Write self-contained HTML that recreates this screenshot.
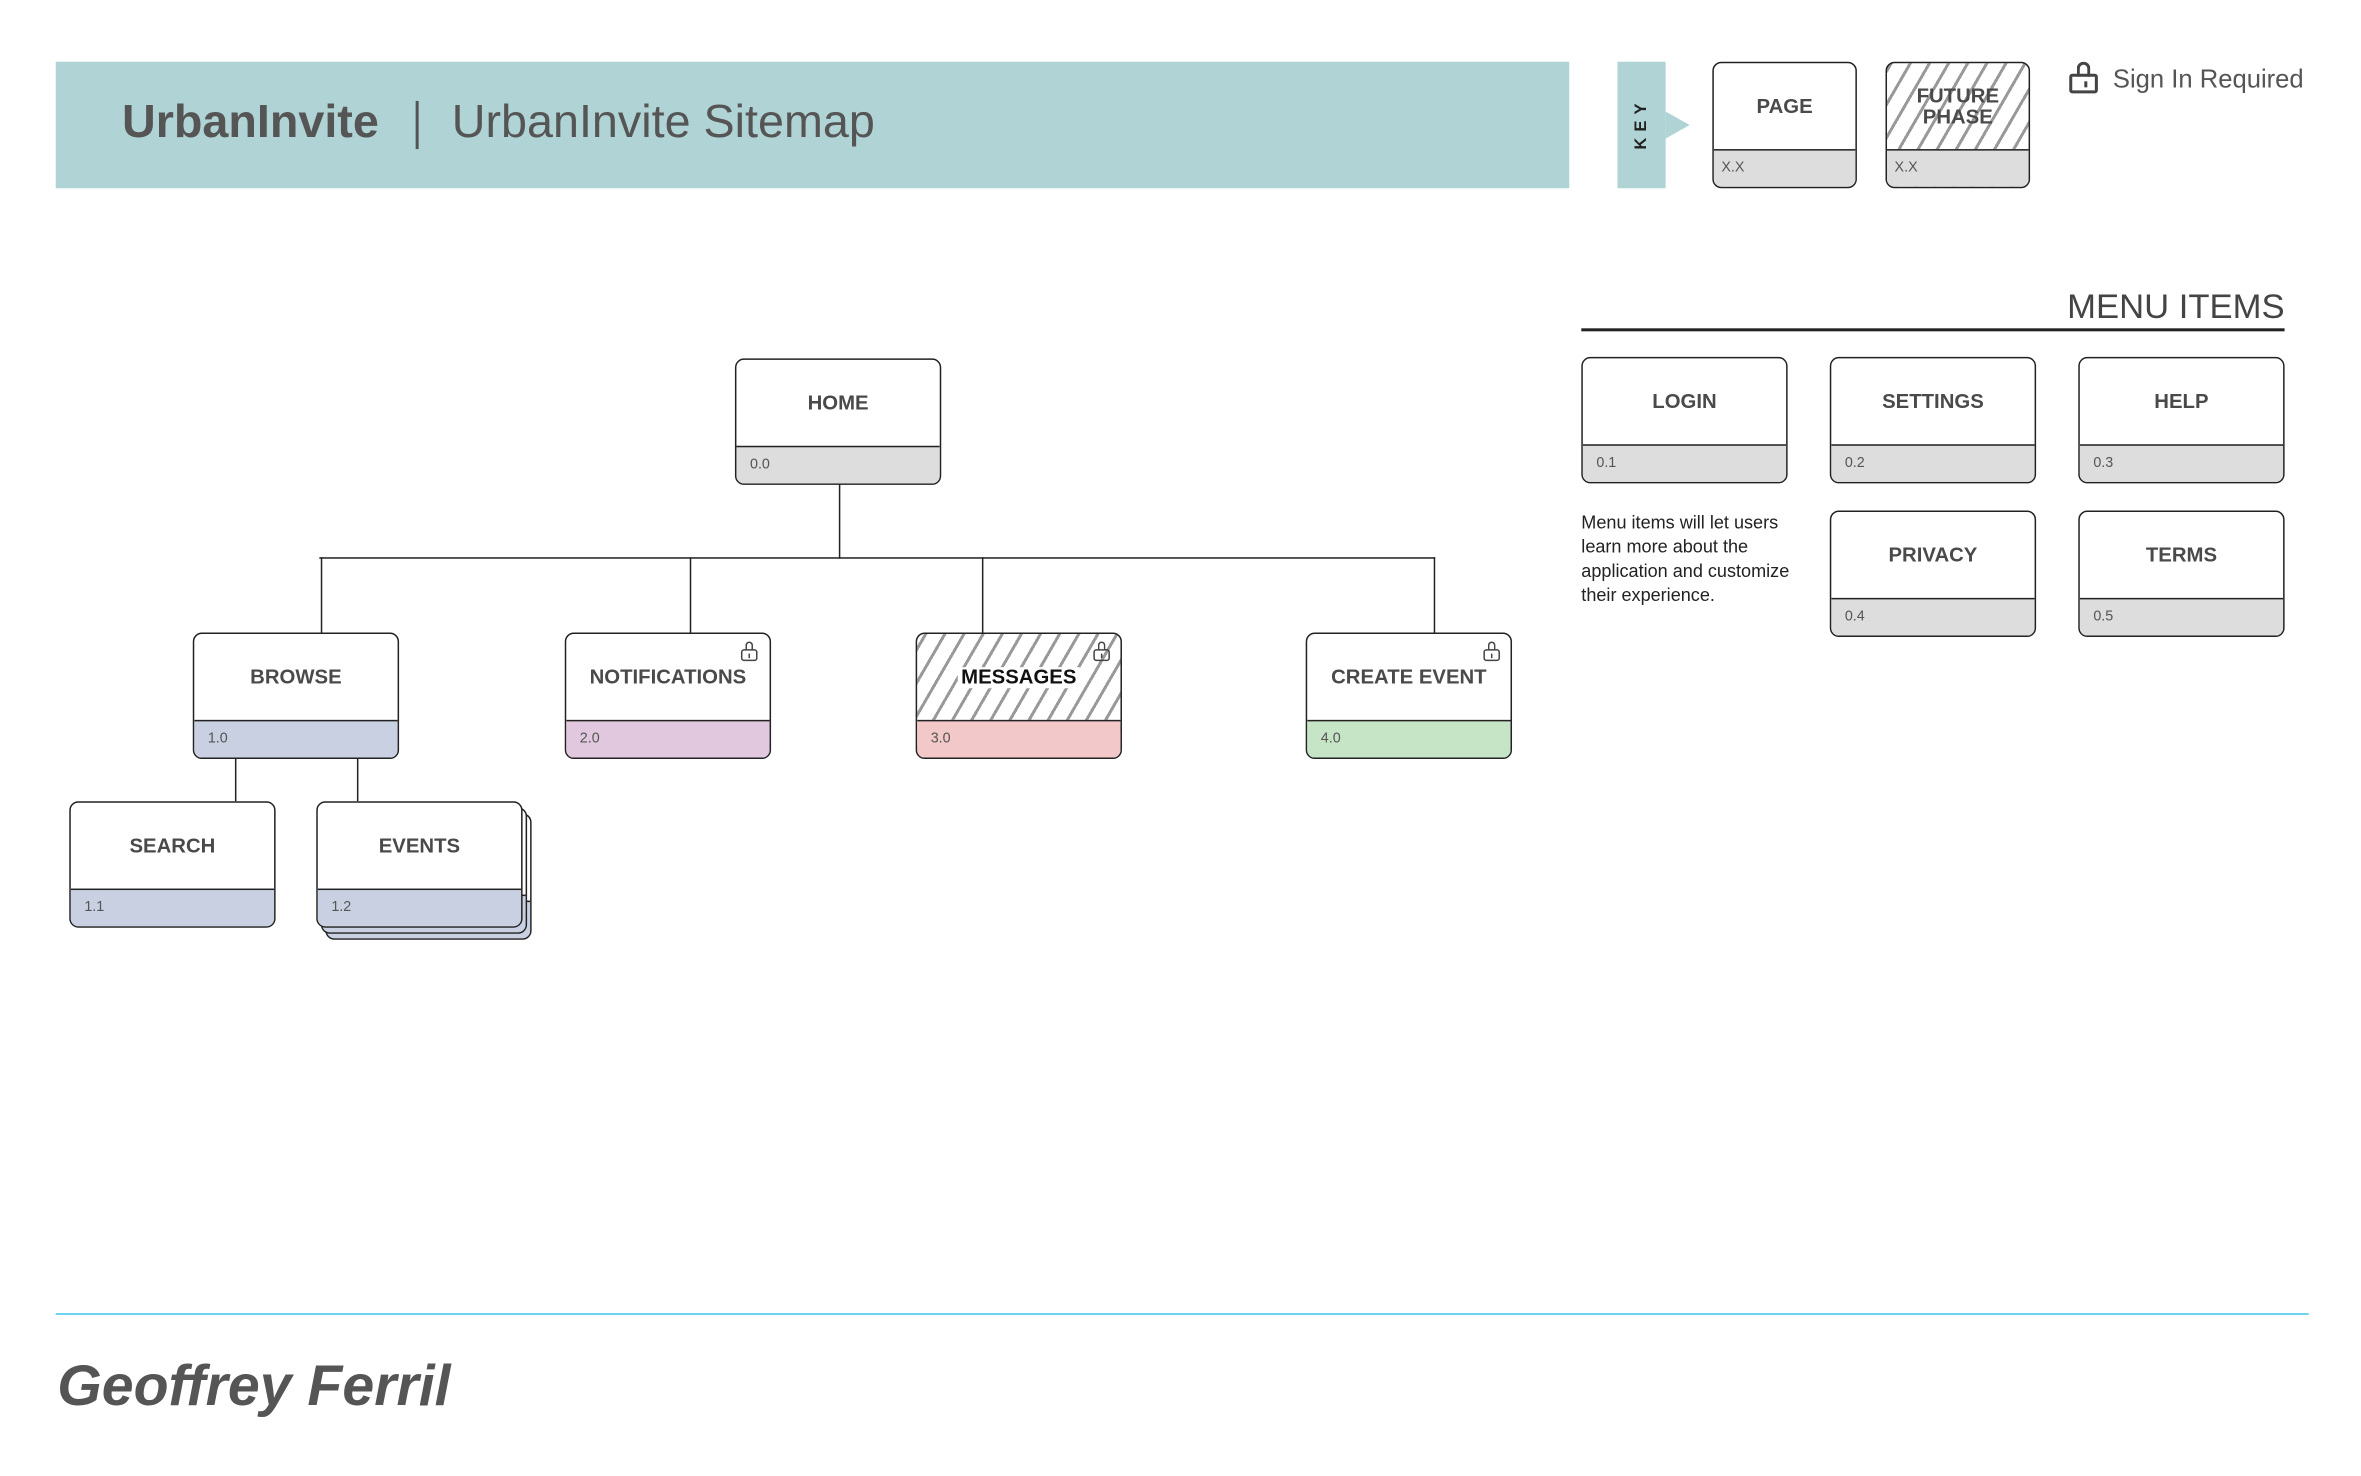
<!DOCTYPE html>
<html><head><meta charset="utf-8"><style>
html,body{margin:0;padding:0;background:#fff;width:2361px;height:1476px;overflow:hidden}
#c{position:absolute;left:0;top:0;width:1560px;height:975px;transform:scale(1.506);transform-origin:0 0;font-family:"Liberation Sans",sans-serif;color:#4a4a4a}
.a{position:absolute}
.box{position:absolute;width:137px;height:84px;box-sizing:border-box;border:1.6px solid #222;border-radius:6px;background:#fff;overflow:hidden}
.box .lb{position:absolute;left:0;right:0;top:0;height:58px;display:flex;align-items:center;justify-content:center;font-weight:bold;font-size:13.5px;color:#4a4a4a;text-align:center;line-height:14px}
.box .nb{position:absolute;left:0;right:0;bottom:0;height:24px;border-top:1.6px solid #222;font-size:9.5px;padding-left:9px;line-height:23px;color:#555;background:#ddd}
.hat{background:repeating-linear-gradient(-60deg,#fff 0 9px,#999 9px 11px)}
.ln{position:absolute;background:#222}
.lock{position:absolute;width:11px;height:8px;border:1.5px solid #444;border-radius:2px;box-sizing:border-box}
.lock:before{content:"";position:absolute;left:1.5px;top:-6.5px;width:5px;height:6px;border:1.5px solid #444;border-bottom:none;border-radius:3px 3px 0 0;box-sizing:border-box}
.lock:after{content:"";position:absolute;left:3.5px;top:1.5px;width:1.3px;height:3px;background:#444}
.lock.big{width:19px;height:13px;border-width:2px}
.lock.big:before{left:3px;top:-10px;width:9px;height:10px;border-width:2px;border-radius:5px 5px 0 0}
.lock.big:after{left:7.5px;top:3px;width:2px;height:4px}
</style></head><body><div id="c">
<div class="a" style="left:37px;top:41px;width:1005px;height:84px;background:#b0d3d5"></div>
<div class="a" style="left:81px;top:63px;font-size:31px;font-weight:bold;color:#555">UrbanInvite</div>
<div class="a" style="left:276px;top:67px;width:1.5px;height:32px;background:#555"></div>
<div class="a" style="left:300px;top:63px;font-size:31px;color:#555">UrbanInvite Sitemap</div>
<div class="a" style="left:1074px;top:41px;width:32px;height:84px;background:#b0d3d5"></div>
<div class="a" style="left:1106px;top:74px;width:0;height:0;border-top:9px solid transparent;border-bottom:9px solid transparent;border-left:16px solid #b0d3d5"></div>
<div class="a" style="left:1060px;top:76px;width:60px;text-align:center;transform:rotate(-90deg);font-size:11px;font-weight:bold;letter-spacing:4px;color:#222">KEY</div>
<div class="box" style="left:1137px;top:41px;width:96px;"><div class="lb">PAGE</div><div class="nb" style="padding-left:5px">X.X</div></div>
<div class="box hat" style="left:1252px;top:41px;width:96px;"><div class="lb">FUTURE<br>PHASE</div><div class="nb" style="padding-left:5px">X.X</div></div>
<div class="lock big" style="left:1374px;top:49px"></div>
<div class="a" style="left:1403px;top:43px;font-size:17px;color:#555">Sign In Required</div>
<div class="a" style="left:1300px;top:190px;width:217px;text-align:right;font-size:23px;color:#444">MENU ITEMS</div>
<div class="ln" style="left:1050px;top:218px;width:467px;height:1.5px"></div>
<div class="box" style="left:1050px;top:237px"><div class="lb">LOGIN</div><div class="nb">0.1</div></div>
<div class="box" style="left:1215px;top:237px"><div class="lb">SETTINGS</div><div class="nb">0.2</div></div>
<div class="box" style="left:1380px;top:237px"><div class="lb">HELP</div><div class="nb">0.3</div></div>
<div class="box" style="left:1215px;top:339px"><div class="lb">PRIVACY</div><div class="nb">0.4</div></div>
<div class="box" style="left:1380px;top:339px"><div class="lb">TERMS</div><div class="nb">0.5</div></div>
<div class="a" style="left:1050px;top:339px;width:160px;font-size:12px;line-height:16px;color:#222">Menu items will let users learn more about the application and customize their experience.</div>
<div class="ln" style="left:556.5px;top:321px;width:1.2px;height:50px"></div>
<div class="ln" style="left:212px;top:370px;width:741px;height:1.2px"></div>
<div class="ln" style="left:212.5px;top:370px;width:1.2px;height:51px"></div>
<div class="ln" style="left:458px;top:370px;width:1.2px;height:51px"></div>
<div class="ln" style="left:651.5px;top:370px;width:1.2px;height:51px"></div>
<div class="ln" style="left:951.5px;top:370px;width:1.2px;height:51px"></div>
<div class="ln" style="left:155.5px;top:503px;width:1.2px;height:29px"></div>
<div class="ln" style="left:236.5px;top:503px;width:1.2px;height:29px"></div>
<div class="box" style="left:488px;top:238px"><div class="lb">HOME</div><div class="nb">0.0</div></div>
<div class="box" style="left:128px;top:420px"><div class="lb">BROWSE</div><div class="nb" style="background:#c8d0e2">1.0</div></div>
<div class="box" style="left:375px;top:420px"><div class="lb">NOTIFICATIONS</div><div class="nb" style="background:#e2c8de">2.0</div></div>
<div class="box hat" style="left:608px;top:420px"><div class="lb"><span style="background:#fff;color:#111;padding:0 2px">MESSAGES</span></div><div class="nb" style="background:#f2c8c8">3.0</div></div>
<div class="box" style="left:867px;top:420px"><div class="lb">CREATE EVENT</div><div class="nb" style="background:#c6e5c6">4.0</div></div>
<div class="lock" style="left:492px;top:431px"></div>
<div class="lock" style="left:726px;top:431px"></div>
<div class="lock" style="left:985px;top:431px"></div>
<div class="box" style="left:46px;top:532px"><div class="lb">SEARCH</div><div class="nb" style="background:#c8d0e2">1.1</div></div>
<div class="box" style="left:216px;top:540px"><div class="nb" style="background:#c8d0e2"></div></div>
<div class="box" style="left:213px;top:536px"><div class="nb" style="background:#c8d0e2"></div></div>
<div class="box" style="left:210px;top:532px"><div class="lb">EVENTS</div><div class="nb" style="background:#c8d0e2">1.2</div></div>
<div class="a" style="left:37px;top:871.5px;width:1496px;height:1.5px;background:#3ec6e8"></div>
<div class="a" style="left:38px;top:900px;font-size:38px;font-style:italic;font-weight:bold;color:#555">Geoffrey Ferril</div>
</div></body></html>
